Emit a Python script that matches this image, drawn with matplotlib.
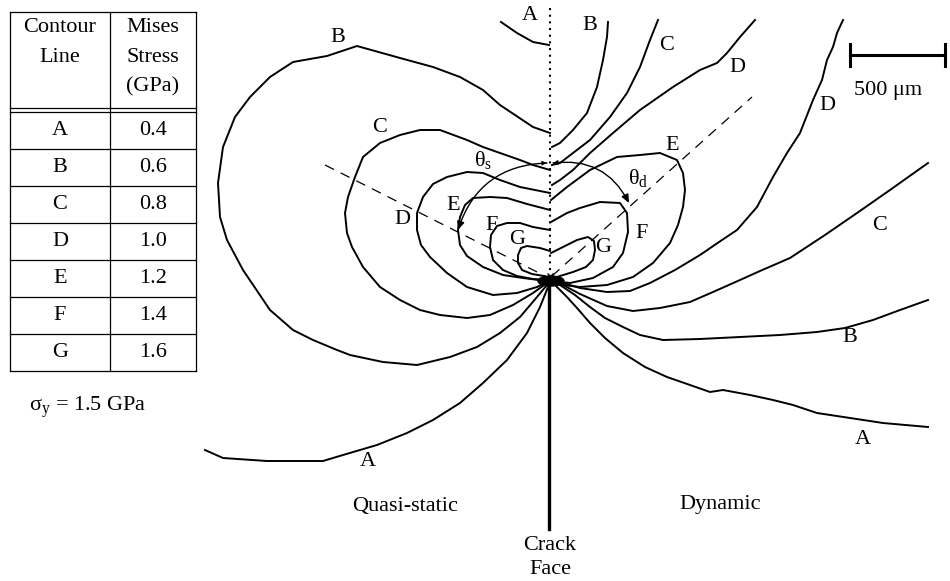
import matplotlib.pyplot as plt
from matplotlib.patches import FancyArrowPatch, Ellipse

plt.rcParams['font.family'] = ['Liberation Serif', 'DejaVu Serif']
plt.rcParams['mathtext.fontset'] = 'custom'
plt.rcParams['mathtext.rm'] = 'Liberation Serif'
plt.rcParams['mathtext.it'] = 'Liberation Serif:italic'

# legend table
contour_names = ['A', 'B', 'C', 'D', 'E', 'F', 'G']
mises_gpa = ['0.4', '0.6', '0.8', '1.0', '1.2', '1.4', '1.6']

# traced contour lines, figure pixel coords (x right, y down)
# quasi-static side (left of the crack line)
qs_A_top = [(501, 22), (517, 33), (533, 42), (549, 45)]
qs_A = [(205, 450), (223, 458), (267, 461), (323, 461), (343, 455), (377, 445),
        (407, 433), (433, 420), (460, 403), (483, 383), (507, 360), (527, 333),
        (540, 307), (548, 287)]
qs_B = [(550, 133), (533, 127), (518, 117), (500, 105), (483, 90), (460, 77),
        (433, 67), (400, 58), (357, 46), (327, 56), (293, 62), (270, 77),
        (250, 97), (235, 117), (223, 147), (218, 183), (220, 217), (227, 240),
        (243, 270), (270, 310), (293, 330), (313, 340), (337, 350), (350, 355),
        (383, 362), (417, 365), (450, 357), (477, 347), (500, 333), (520, 317),
        (537, 297), (547, 285)]
qs_C = [(550, 170), (533, 165), (520, 160), (500, 153), (483, 147), (467, 140),
        (440, 130), (420, 130), (400, 135), (380, 143), (363, 157), (355, 177),
        (348, 197), (345, 213), (347, 233), (352, 247), (363, 267), (380, 287),
        (400, 300), (420, 310), (440, 315), (467, 318), (490, 315), (513, 305),
        (533, 293), (547, 283)]
qs_D = [(550, 193), (535, 190), (520, 187), (500, 180), (483, 173), (467, 172),
        (447, 177), (433, 184), (423, 197), (417, 213), (417, 230), (421, 245),
        (430, 257), (447, 273), (467, 287), (493, 295), (517, 293), (537, 287),
        (547, 282)]
qs_E = [(550, 210), (527, 204), (507, 198), (490, 197), (473, 198), (465, 205),
        (460, 217), (458, 230), (460, 245), (467, 256), (483, 267), (503, 275),
        (523, 278), (547, 281)]
qs_F = [(550, 230), (533, 227), (520, 223), (507, 223), (497, 226), (491, 235),
        (490, 247), (493, 260), (503, 270), (517, 276), (533, 279), (547, 280)]
qs_G = [(550, 251), (540, 248), (527, 246), (521, 248), (518, 255), (518, 263),
        (522, 270), (532, 274), (544, 276), (549, 278)]

# dynamic side (right of the crack line)
dyn_B_top = [(608, 22), (607, 37), (603, 60), (597, 87), (587, 113), (573, 130),
             (560, 143), (552, 147)]
dyn_C_top = [(658, 20), (650, 40), (640, 67), (627, 93), (610, 117), (590, 140),
             (573, 153), (560, 163), (552, 165)]
dyn_D_top = [(755, 20), (740, 37), (727, 53), (717, 63), (700, 70), (673, 87),
             (640, 110), (613, 133), (590, 153), (573, 170), (560, 180), (552, 185)]
dyn_D = [(843, 20), (837, 33), (833, 47), (827, 60), (822, 80), (813, 100),
         (800, 133), (787, 153), (773, 177), (757, 207), (737, 230), (722, 240),
         (700, 255), (675, 270), (650, 283), (630, 291), (607, 292), (580, 288),
         (563, 283), (552, 281)]
dyn_C = [(928, 163), (890, 190), (857, 213), (825, 235), (790, 258), (760, 271),
         (740, 280), (713, 292), (690, 302), (660, 308), (633, 311), (607, 306),
         (580, 294), (563, 285), (552, 281)]
dyn_B = [(928, 300), (900, 310), (873, 320), (845, 328), (817, 332), (780, 335),
         (740, 337), (700, 339), (663, 340), (640, 335), (623, 327), (605, 318),
         (590, 307), (575, 295), (560, 285)]
dyn_A = [(928, 427), (883, 423), (850, 418), (817, 413), (793, 405), (773, 400),
         (750, 395), (723, 390), (710, 392), (690, 385), (667, 377), (645, 367),
         (623, 353), (605, 338), (590, 323), (577, 308), (567, 297), (555, 285)]
dyn_E = [(551, 200), (567, 187), (590, 170), (617, 157), (640, 155), (660, 153),
         (677, 160), (683, 173), (685, 190), (683, 207), (678, 225), (670, 243),
         (653, 263), (633, 277), (607, 285), (580, 287), (563, 285), (552, 282)]
dyn_F = [(551, 222), (567, 213), (580, 208), (600, 202), (620, 203), (627, 213),
         (628, 232), (623, 253), (613, 267), (593, 278), (570, 283), (552, 281)]
dyn_G = [(551, 253), (563, 247), (577, 240), (588, 237), (594, 241), (595, 250),
         (593, 260), (586, 267), (573, 272), (560, 276), (551, 279)]

contour_lines = [qs_A_top, qs_A, qs_B, qs_C, qs_D, qs_E, qs_F, qs_G,
                 dyn_B_top, dyn_C_top, dyn_D_top, dyn_D, dyn_C, dyn_B, dyn_A,
                 dyn_E, dyn_F, dyn_G]

# contour letters next to the lines
line_labels = [('A', 530, 15), ('B', 338, 37), ('B', 590, 25), ('C', 667, 45),
               ('D', 737, 68), ('D', 827, 105), ('C', 380, 127), ('E', 672, 145),
               ('C', 880, 225), ('D', 402, 220), ('E', 453, 205), ('F', 492, 226),
               ('G', 517, 239), ('F', 642, 233), ('G', 603, 248), ('B', 850, 338),
               ('A', 863, 440), ('A', 368, 462)]

fig = plt.figure(figsize=(9.5, 5.81), dpi=100)
ax = fig.add_axes([0, 0, 1, 1])
ax.set_xlim(0, 950)
ax.set_ylim(581, 0)
ax.axis('off')

for pts in contour_lines:
    xs, ys = zip(*pts)
    ax.plot(xs, ys, color='black', lw=1.4, solid_joinstyle='round')

# crack tip blob, crack face and symmetry line
ax.add_patch(Ellipse((551, 281), 26, 10, color='black'))
ax.plot([549, 549], [280, 529], color='black', lw=2.4)
ax.plot([550, 550], [8, 274], color='black', lw=1.5, ls=(0, (1, 2.2)))
ax.plot([550], [276], marker='x', color='black', ms=5, mew=1)

# directions of maximum stress
ax.plot([325, 549], [165, 278], color='black', lw=0.9, ls=(0, (8, 6)))
ax.plot([552, 752], [276, 97], color='black', lw=0.9, ls=(0, (8, 6)))

arrow_kw = dict(arrowstyle='-|>,head_length=5,head_width=2.2', color='black',
                lw=1.0, shrinkA=0, shrinkB=0)
for start, end, rad in [((547, 163), (458, 230), 0.35),
                        ((553, 163), (629, 203), -0.35)]:
    ax.add_patch(FancyArrowPatch(start, end, connectionstyle=f'arc3,rad={rad}', **arrow_kw))
    ax.add_patch(FancyArrowPatch(end, start, connectionstyle=f'arc3,rad={-rad}',
                                 arrowstyle='-|>,head_length=4,head_width=1.8',
                                 color='black', lw=0, shrinkA=0, shrinkB=0))

fs = 16
for name, x, y in line_labels:
    ax.text(x, y, name, fontsize=fs, ha='center', va='center')

ax.text(483, 160, r'$\mathrm{θ_s}$', fontsize=fs, ha='center', va='center')
ax.text(638, 178, r'$\mathrm{θ_d}$', fontsize=fs, ha='center', va='center')

# scale bar
ax.plot([850, 945], [55, 55], color='black', lw=2.2)
ax.plot([850, 850], [44, 66], color='black', lw=2.2)
ax.plot([945, 945], [44, 66], color='black', lw=2.2)
ax.text(888, 90, '500 μm', fontsize=fs, ha='center', va='center')

ax.text(405, 507, 'Quasi-static', fontsize=fs, ha='center', va='center')
ax.text(720, 505, 'Dynamic', fontsize=fs, ha='center', va='center')
ax.text(550, 545, 'Crack', fontsize=fs, ha='center', va='center')
ax.text(550, 570, 'Face', fontsize=fs, ha='center', va='center')

# legend table
tl, tm, tr = 10, 110, 196
top, head = 12, 108
row_h = 37
first = head + 4
bottom = first + row_h * len(contour_names)
tkw = dict(color='black', lw=0.9)
ax.plot([tl, tl], [top, bottom], **tkw)
ax.plot([tm, tm], [top, bottom], **tkw)
ax.plot([tr, tr], [top, bottom], **tkw)
ax.plot([tl, tr], [top, top], **tkw)
ax.plot([tl, tr], [head, head], **tkw)
for i in range(len(contour_names) + 1):
    yy = first + i * row_h
    ax.plot([tl, tr], [yy, yy], **tkw)
ax.text(60, 27, 'Contour', fontsize=fs, ha='center', va='center')
ax.text(60, 57, 'Line', fontsize=fs, ha='center', va='center')
ax.text(153, 27, 'Mises', fontsize=fs, ha='center', va='center')
ax.text(153, 57, 'Stress', fontsize=fs, ha='center', va='center')
ax.text(153, 87, '(GPa)', fontsize=fs, ha='center', va='center')
for i, (name, val) in enumerate(zip(contour_names, mises_gpa)):
    yc = first + (i + 0.5) * row_h
    ax.text(60, yc, name, fontsize=fs, ha='center', va='center')
    ax.text(153, yc, val, fontsize=fs, ha='center', va='center')
ax.text(88, 407, r'$\mathrm{σ_y}$ = 1.5 GPa', fontsize=fs, ha='center', va='center')

fig.savefig('out.png', dpi=100)
